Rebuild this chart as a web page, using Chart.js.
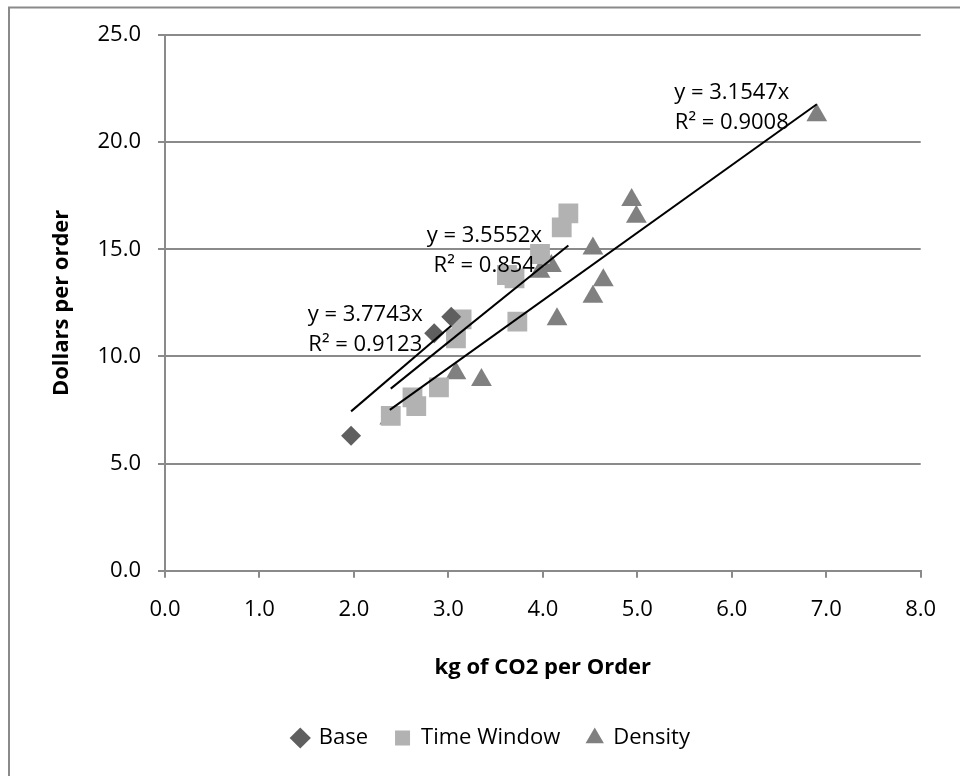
<!DOCTYPE html>
<html>
<head>
<meta charset="utf-8">
<script src="https://cdn.jsdelivr.net/npm/chart.js@4/dist/chart.umd.min.js"></script>
<style>
  html, body { margin: 0; padding: 0; background: #ffffff; }
  #wrap { position: relative; width: 960px; height: 776px; overflow: hidden; }
  canvas { display: block; }
</style>
</head>
<body>
<div id="wrap"><canvas id="c" width="960" height="776"></canvas></div>
<script>
// ---- Data ----
const seriesNames = ['Base', 'Time Window', 'Density'];

const baseX = [1.97, 2.85, 3.03];
const baseY = [6.30, 11.08, 11.85];

const timeWindowX = [2.39, 2.62, 2.66, 2.90, 3.08, 3.14, 3.62, 3.70, 3.73, 3.97, 4.20, 4.27];
const timeWindowY = [7.23, 8.09, 7.68, 8.56, 10.84, 11.73, 13.80, 13.64, 11.62, 14.78, 16.02, 16.68];

const densityX = [2.38, 3.08, 3.35, 3.97, 4.09, 4.15, 4.53, 4.53, 4.64, 4.94, 4.99, 6.90];
const densityY = [7.10, 9.21, 8.90, 13.95, 14.22, 11.73, 15.04, 12.79, 13.56, 17.30, 16.52, 21.26];

// Trendline (linear, through origin) equations shown on the chart
const trendSlopes = [3.7743, 3.5552, 3.1547];
const trendR2 = ['0.9123', '0.854', '0.9008'];

const xTicks = [0, 1, 2, 3, 4, 5, 6, 7, 8];
const yTicks = [0, 5, 10, 15, 20, 25];

const xTitle = 'kg of CO2 per Order';
const yTitle = 'Dollars per order';

// label anchor (centre of the two-line equation block) in data units
const labelAnchorX = [2.12, 3.38, 6.00];
const labelAnchorY = [11.26, 14.92, 21.61];

// ---- Styling ----
const FONT = "'Open Sans', 'DejaVu Sans', sans-serif";
const colors = ['#5f5f5f', '#b2b2b2', '#808080'];
const pointStyles = ['rectRot', 'rect', 'triangle'];
const pointRadii = [10, 14, 12];
const GRID = '#8a8a8a';
const LEGEND_SHIFT = 31;

const xs = [baseX, timeWindowX, densityX];
const ys = [baseY, timeWindowY, densityY];

const scatterSets = seriesNames.map((name, i) => ({
  type: 'scatter',
  label: name,
  data: xs[i].map((x, k) => ({ x: x, y: ys[i][k] })),
  backgroundColor: colors[i],
  borderColor: colors[i],
  borderWidth: 0,
  pointStyle: pointStyles[i],
  pointRadius: pointRadii[i],
  pointHoverRadius: pointRadii[i],
  order: 1
}));

const trendSets = seriesNames.map((name, i) => {
  const lo = Math.min(...xs[i]);
  const hi = Math.max(...xs[i]);
  return {
    type: 'line',
    label: 'trend-' + name,
    data: [{ x: lo, y: trendSlopes[i] * lo }, { x: hi, y: trendSlopes[i] * hi }],
    borderColor: '#000000',
    borderWidth: 2,
    pointRadius: 0,
    fill: false,
    tension: 0,
    order: -1
  };
});

const borderPlugin = {
  id: 'outerBorder',
  beforeDraw(chart) {
    const ctx = chart.ctx;
    ctx.save();
    ctx.fillStyle = '#ffffff';
    ctx.fillRect(0, 0, chart.width, chart.height);
    ctx.strokeStyle = GRID;
    ctx.lineWidth = 2;
    ctx.beginPath();
    ctx.moveTo(9, chart.height + 5);
    ctx.lineTo(9, 7.5);
    ctx.lineTo(chart.width + 5, 7.5);
    ctx.stroke();
    ctx.restore();
  }
};

const legendShift = {
  id: 'legendShift',
  afterLayout(chart) {
    if (chart.legend) {
      chart.legend.left += LEGEND_SHIFT;
      chart.legend.right += LEGEND_SHIFT;
    }
  }
};

const eqLabels = {
  id: 'eqLabels',
  afterDatasetsDraw(chart) {
    const ctx = chart.ctx;
    const sx = chart.scales.x, sy = chart.scales.y;
    ctx.save();
    ctx.font = '22px ' + FONT;
    ctx.fillStyle = '#000000';
    ctx.textAlign = 'center';
    ctx.textBaseline = 'middle';
    trendSlopes.forEach((m, i) => {
      const px = sx.getPixelForValue(labelAnchorX[i]);
      const py = sy.getPixelForValue(labelAnchorY[i]);
      ctx.fillText('y = ' + m.toFixed(4) + 'x', px, py - 15);
      ctx.fillText('R\u00B2 = ' + trendR2[i], px, py + 15);
    });
    ctx.restore();
  }
};

Chart.defaults.font.family = FONT;
Chart.defaults.font.size = 22;
Chart.defaults.color = '#000000';

new Chart(document.getElementById('c'), {
  data: { datasets: [...scatterSets, ...trendSets] },
  options: {
    responsive: false,
    animation: false,
    devicePixelRatio: 1,
    layout: { padding: { left: 0, top: 35, right: 39.3, bottom: 17 } },
    plugins: {
      tooltip: { enabled: false },
      legend: {
        position: 'bottom',
        labels: {
          usePointStyle: true,
          boxWidth: 15,
          boxHeight: 15,
          padding: 27,
          color: '#000000',
          font: { size: 22, family: FONT },
          filter: (item) => !item.text.startsWith('trend-')
        }
      }
    },
    scales: {
      x: {
        type: 'linear',
        min: 0,
        max: 8,
        afterFit: (s) => { s.height = 129.3; },
        afterBuildTicks: (s) => { s.ticks = xTicks.map(v => ({ value: v })); },
        ticks: { padding: 19, callback: (v) => Number(v).toFixed(1), color: '#000000', font: { size: 22 } },
        grid: { drawOnChartArea: false, drawTicks: true, tickLength: 7, color: GRID, lineWidth: 2 },
        border: { color: GRID, width: 2 },
        title: { display: true, text: xTitle, font: { size: 22, weight: 'bold' }, color: '#000000', padding: { top: 0, bottom: 18.8 } }
      },
      y: {
        type: 'linear',
        min: 0,
        max: 25,
        afterFit: (s) => { s.width = 165; },
        afterBuildTicks: (s) => { s.ticks = yTicks.map(v => ({ value: v })); },
        ticks: { padding: 17, callback: (v) => Number(v).toFixed(1), color: '#000000', font: { size: 22 } },
        grid: { drawOnChartArea: true, drawTicks: true, tickLength: 7, color: GRID, lineWidth: 2 },
        border: { color: GRID, width: 2 },
        title: { display: true, text: yTitle, font: { size: 22, weight: 'bold' }, color: '#000000', padding: { top: 48.5, bottom: 0 } }
      }
    }
  },
  plugins: [borderPlugin, legendShift, eqLabels]
});
</script>
</body>
</html>
